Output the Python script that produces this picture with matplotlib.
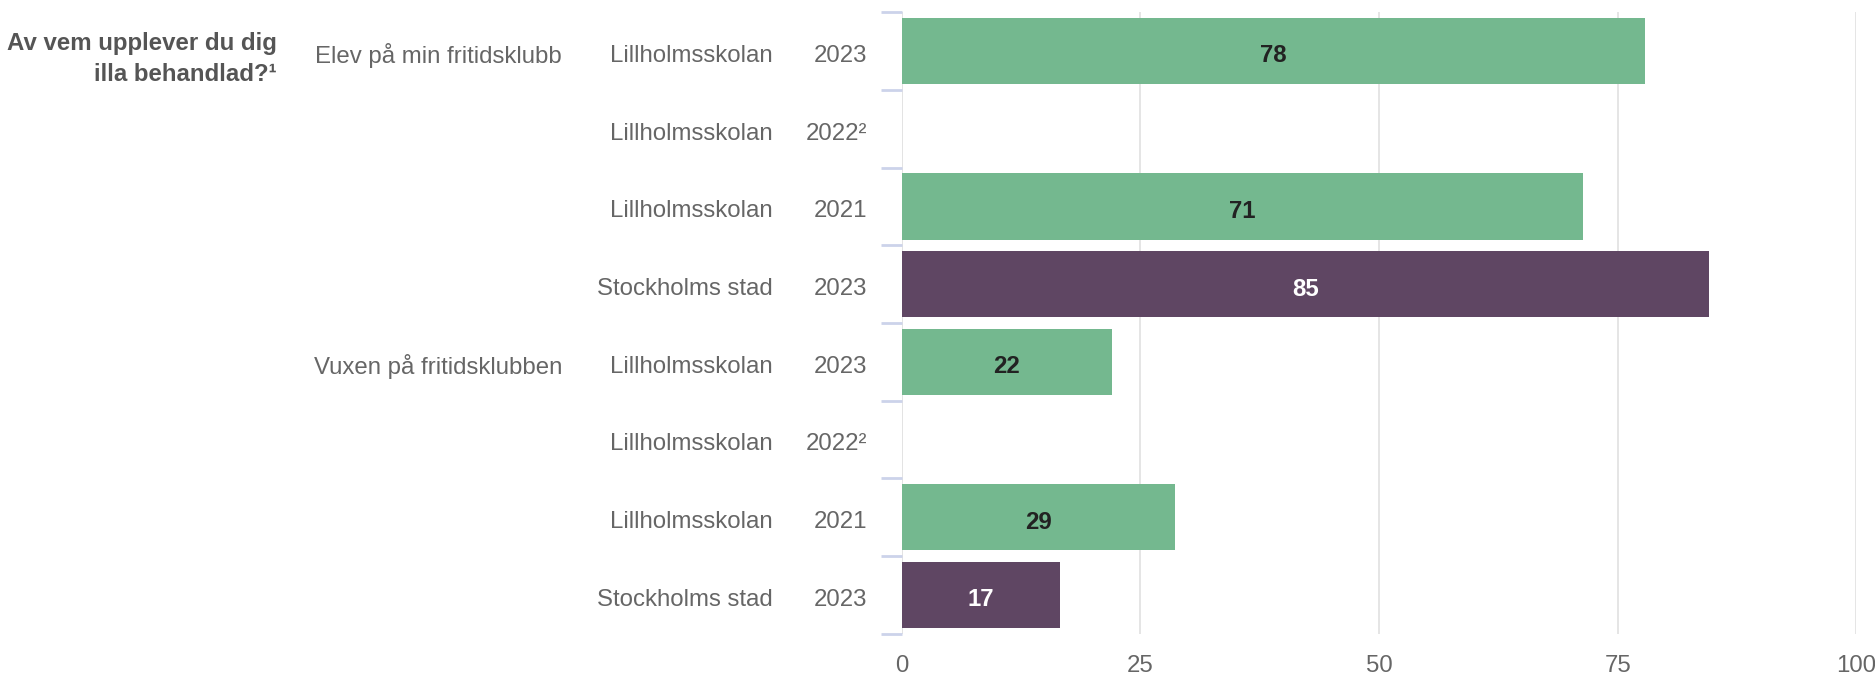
import numpy as np
import matplotlib.pyplot as plt
import matplotlib.transforms as mtransforms

plt.rcParams['font.family'] = ['Liberation Sans', 'DejaVu Sans']

header = 'Av vem upplever du dig\nilla behandlad?¹'
groups = ['Elev på min fritidsklubb', 'Vuxen på fritidsklubben']
units = ['Lillholmsskolan', 'Lillholmsskolan', 'Lillholmsskolan', 'Stockholms stad',
         'Lillholmsskolan', 'Lillholmsskolan', 'Lillholmsskolan', 'Stockholms stad']
years = ['2023', '2022²', '2021', '2023', '2023', '2022²', '2021', '2023']
values = [77.9, np.nan, 71.4, 84.6, 22.0, np.nan, 28.6, 16.6]
is_city = [False, False, False, True, False, False, False, True]

green = '#74b88f'
purple = '#5f4663'
grey = '#666666'
fs = 17.3
dy = 0.03  # nudge text down a bit

fig = plt.figure(figsize=(18.75, 6.78), dpi=100)
ax = fig.add_axes([0.481, 0.065, 0.509, 0.917])

n = len(values)
ypos = np.arange(n)
colors = [purple if c else green for c in is_city]
vals = [0 if np.isnan(v) else v for v in values]
ax.barh(ypos, vals, height=0.85, color=colors, zorder=3)

for y, v, c in zip(ypos, values, is_city):
    if np.isnan(v):
        continue
    ax.text(v / 2, y + dy, f'{v:.0f}', ha='center', va='center_baseline', fontsize=fs,
            fontweight='bold', color='white' if c else '#222222', zorder=4)

ax.set_xlim(0, 100)
ax.set_ylim(n - 0.5, -0.5)
ax.set_xticks([0, 25, 50, 75, 100])
ax.tick_params(axis='x', length=0, labelsize=fs, labelcolor=grey, pad=15)
ax.grid(axis='x', color='#e3e3e3', linewidth=1.3, zorder=0)
for s in ax.spines.values():
    s.set_visible(False)

ax.set_yticks([])
ax.set_yticks(np.arange(n + 1) - 0.5, minor=True)
ax.tick_params(axis='y', which='minor', length=15, width=2, color='#ccd3ea')
ax.set_yticklabels([], minor=True)
ax.axvline(0, color='#e3e3e3', linewidth=1.3, zorder=1)

trans = mtransforms.blended_transform_factory(fig.transFigure, ax.transData)
for y in ypos:
    ax.text(0.4624, y + dy, years[y], transform=trans, ha='right', va='center_baseline',
            fontsize=fs, color=grey)
    ax.text(0.4123, y + dy, units[y], transform=trans, ha='right', va='center_baseline',
            fontsize=fs, color=grey)
ax.text(0.2997, 0 + dy, groups[0], transform=trans, ha='right', va='center_baseline',
        fontsize=fs, color=grey)
ax.text(0.2997, 4 + dy, groups[1], transform=trans, ha='right', va='center_baseline',
        fontsize=fs, color=grey)
ax.text(0.1477, 0.1, header, transform=trans, ha='right', va='center',
        fontsize=fs, color='#555555', fontweight='bold', linespacing=1.45)

fig.savefig('out.png', dpi=100)
